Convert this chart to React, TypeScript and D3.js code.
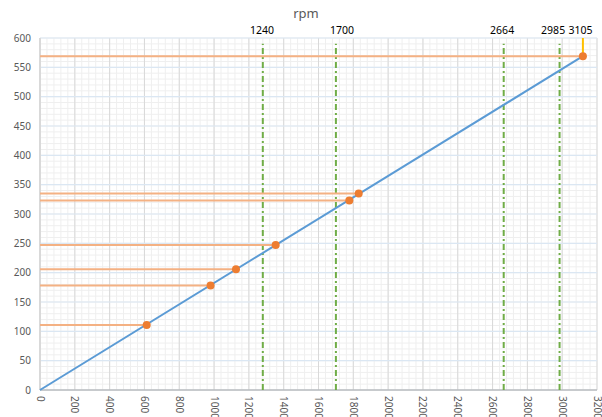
import React from "react";
import * as d3 from "d3";

const pointRpm = [613, 980, 1126, 1354, 1777, 1831, 3119];
const pointVal = [111, 178, 206, 247, 323, 335, 569];
const lineRpm = [0, 3119];
const lineVal = [0, 569];
const refPos = [1280, 1700, 2664, 2985];
const refLabels = ["1240", "1700", "2664", "2985"];
const refLabelPos = [1275, 1735, 2655, 2948];
const topPos = 3119;
const topLabel = "3105";
const topLabelPos = 3105;
const xTicks = d3.range(0, 3201, 200);
const yTicks = d3.range(0, 601, 50);
const xMinor = d3.range(0, 3201, 40);
const yMinor = d3.range(0, 601, 10);
const title = "rpm";

const W = 602, H = 417;
const x = d3.scaleLinear().domain([0, 3200]).range([40, 597]);
const y = d3.scaleLinear().domain([0, 600]).range([390, 38]);
const FONT = "'Noto Sans', sans-serif";

export default function App() {
  const line = d3.line<number>().x((d, i) => x(lineRpm[i])).y((d, i) => y(lineVal[i]));
  return (
    <svg width={W} height={H} style={{ position: "absolute", left: 0, top: 0, background: "#fff" }} fontFamily={FONT}>
      {xMinor.map((v) => (
        <line key={"xm" + v} x1={x(v)} x2={x(v)} y1={y(0)} y2={y(600)} stroke="#efefef" strokeWidth={1} />
      ))}
      {yMinor.map((v) => (
        <line key={"ym" + v} x1={x(0)} x2={x(3200)} y1={y(v)} y2={y(v)} stroke="#efefef" strokeWidth={1} />
      ))}
      {xTicks.map((v) => (
        <line key={"xg" + v} x1={x(v)} x2={x(v)} y1={y(0)} y2={y(600)} stroke="#d9d9d9" strokeWidth={1} />
      ))}
      {yTicks.map((v) => (
        <line key={"yg" + v} x1={x(0)} x2={x(3200)} y1={y(v)} y2={y(v)} stroke="#dbe7f3" strokeWidth={1.2} />
      ))}
      <line x1={x(0)} x2={x(0)} y1={y(0)} y2={y(600)} stroke="#d9d9d9" strokeWidth={2} />
      <line x1={x(0)} x2={x(3200)} y1={y(0)} y2={y(0)} stroke="#a6a6a6" strokeWidth={1} />
      {yTicks.map((v) => (
        <text key={"yt" + v} x={31} y={y(v)} dy="0.35em" textAnchor="end" fontSize={10} fill="#595959">{v}</text>
      ))}
      {xTicks.map((v) => (
        <text key={"xt" + v} transform={`translate(${x(v)},${y(0) + 6}) rotate(90)`} dy="0.35em" textAnchor="start" fontSize={10} fill="#595959">{v}</text>
      ))}
      {refPos.map((v, i) => (
        <g key={"ref" + i}>
          <line x1={x(v)} x2={x(v)} y1={y(0)} y2={y(590)} stroke="#70ad47" strokeWidth={2} strokeDasharray="6,3,2,3" />
          <text x={x(refLabelPos[i])} y={34} textAnchor="middle" fontSize={10.5} fill="#000">{refLabels[i]}</text>
        </g>
      ))}
      {pointRpm.map((v, i) => (
        <line key={"h" + i} x1={x(0)} x2={x(v)} y1={y(pointVal[i])} y2={y(pointVal[i])} stroke="#f4b183" strokeWidth={2} />
      ))}
      <line x1={x(topPos)} x2={x(topPos)} y1={y(600)} y2={y(569)} stroke="#ffc000" strokeWidth={2} />
      <text x={x(topLabelPos)} y={34} textAnchor="middle" fontSize={10.5} fill="#000">{topLabel}</text>
      <path d={line(lineRpm) || ""} fill="none" stroke="#5b9bd5" strokeWidth={2} />
      {pointRpm.map((v, i) => (
        <circle key={"p" + i} cx={x(v)} cy={y(pointVal[i])} r={4} fill="#ed7d31" />
      ))}
      <text x={306} y={18} textAnchor="middle" fontSize={13} fill="#595959">{title}</text>
    </svg>
  );
}
